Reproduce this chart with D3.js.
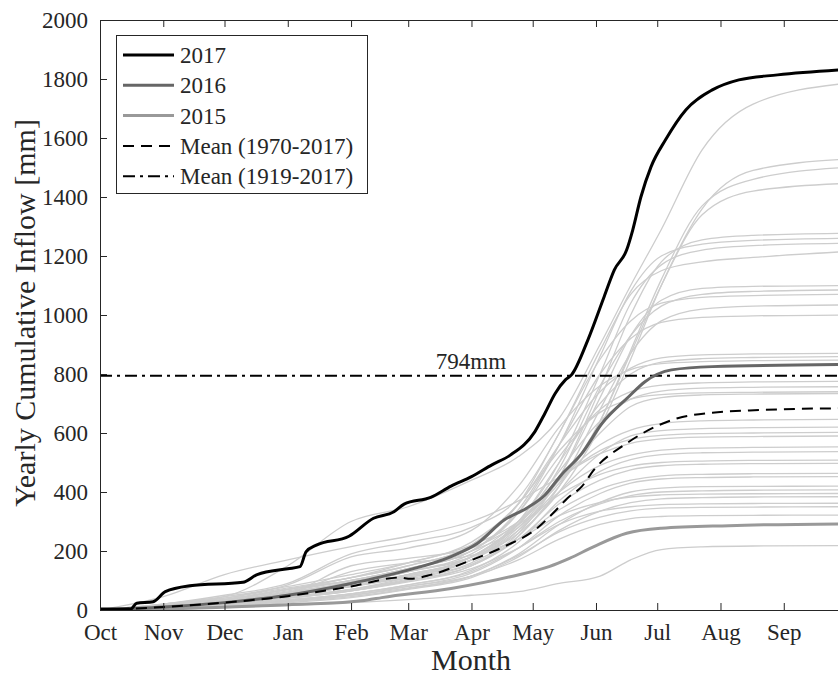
<!DOCTYPE html>
<html>
<head>
<meta charset="utf-8">
<script src="https://cdn.jsdelivr.net/npm/d3@7"></script>
<style>
body { margin: 0; background: #fff; }
svg { display: block; }
text { font-family: "Liberation Serif", "Times New Roman", serif; fill: #262626; }
</style>
</head>
<body>
<svg id="chart" width="838" height="677"></svg>
<script>
// month ticks, counted in days from 1 October
var monthDays = [0, 31, 61, 92, 123, 151, 182, 212, 243, 273, 304, 335];
var monthLabels = ["Oct", "Nov", "Dec", "Jan", "Feb", "Mar", "Apr", "May", "Jun", "Jul", "Aug", "Sep"];
var yTicks = [0, 200, 400, 600, 800, 1000, 1200, 1400, 1600, 1800, 2000];

// 2017
var days2017 = [0, 15, 18, 26, 32, 44, 70, 77, 92, 98, 101, 106, 122, 134, 144, 149, 162, 172, 182, 192, 201, 213, 218, 223, 228, 231, 239, 247, 252, 258, 261, 265, 270, 277, 287, 300, 313, 332, 365];
var vals2017 = [3, 3, 23, 28, 62, 82, 94, 120, 140, 147, 198, 220, 250, 311, 333, 359, 382, 420, 452, 492, 525, 604, 667, 734, 780, 797, 915, 1062, 1153, 1220, 1288, 1400, 1503, 1593, 1695, 1763, 1797, 1814, 1832];

// 2016
var days2016 = [0, 31, 61, 92, 123, 148, 172, 185, 198, 209, 218, 226, 236, 246, 259, 267, 280, 300, 365];
var vals2016 = [0, 10, 25, 50, 90, 130, 181, 226, 305, 345, 390, 458, 530, 633, 723, 774, 814, 825, 832];

// 2015
var days2015 = [0, 40, 92, 123, 131, 138, 172, 201, 220, 230, 242, 258, 275, 308, 365];
var vals2015 = [0, 5, 18, 28, 34, 42, 73, 113, 147, 175, 215, 260, 277, 286, 292];

// mean 1970-2017
var daysMean = [0, 31, 61, 92, 123, 147, 152, 162, 180, 198, 213, 225, 229, 236, 242, 258, 272, 283, 300, 324, 365];
var valsMean = [0, 10, 25, 47, 80, 110, 106, 119, 164, 215, 271, 350, 379, 418, 475, 565, 621, 650, 669, 678, 684];

// mean 1919-2017
var longMean = 794;

// the other years, sampled on a common set of days
var gridDays = [0, 31, 61, 92, 123, 151, 182, 205, 225, 245, 260, 275, 295, 320, 365];
var otherYears = [
  [0, 20, 45, 150, 300, 350, 440, 520, 650, 900, 1100, 1290, 1560, 1715, 1785],
  [0, 10, 30, 60, 90, 130, 180, 260, 400, 620, 850, 1100, 1360, 1490, 1528],
  [0, 12, 35, 70, 100, 140, 200, 280, 420, 640, 880, 1120, 1370, 1460, 1500],
  [0, 15, 40, 80, 120, 160, 220, 300, 430, 640, 870, 1100, 1340, 1420, 1446],
  [0, 10, 25, 50, 80, 110, 160, 260, 450, 750, 1000, 1180, 1255, 1270, 1277],
  [0, 15, 35, 70, 100, 140, 200, 330, 560, 860, 1080, 1200, 1240, 1253, 1260],
  [0, 12, 30, 60, 90, 120, 180, 300, 500, 800, 1040, 1170, 1220, 1235, 1243],
  [0, 20, 50, 90, 190, 230, 280, 380, 600, 880, 1070, 1150, 1180, 1195, 1215],
  [0, 12, 28, 55, 85, 120, 170, 270, 450, 720, 930, 1050, 1090, 1097, 1100],
  [0, 10, 30, 60, 90, 130, 180, 290, 480, 760, 930, 1030, 1070, 1080, 1085],
  [0, 18, 40, 75, 110, 150, 220, 360, 600, 850, 980, 1040, 1060, 1066, 1070],
  [0, 8, 20, 45, 70, 100, 150, 250, 420, 680, 870, 980, 1020, 1030, 1034],
  [0, 15, 35, 65, 100, 140, 200, 340, 560, 800, 920, 975, 992, 997, 1000],
  [0, 15, 35, 70, 110, 160, 230, 360, 560, 740, 820, 855, 865, 868, 870],
  [0, 10, 25, 50, 80, 120, 180, 300, 500, 700, 800, 840, 852, 856, 859],
  [0, 20, 45, 85, 180, 210, 270, 420, 620, 760, 815, 835, 842, 845, 847],
  [0, 12, 30, 60, 95, 140, 200, 330, 520, 680, 740, 762, 770, 773, 775],
  [0, 8, 20, 40, 70, 110, 170, 290, 470, 640, 715, 742, 752, 755, 757],
  [0, 15, 35, 70, 110, 150, 220, 360, 540, 670, 715, 730, 736, 738, 740],
  [0, 10, 25, 50, 80, 115, 170, 280, 440, 600, 690, 720, 729, 732, 734],
  [0, 10, 25, 50, 80, 120, 180, 290, 440, 560, 610, 632, 641, 644, 646],
  [0, 8, 20, 40, 65, 100, 150, 250, 400, 530, 590, 608, 615, 618, 620],
  [0, 12, 30, 55, 90, 130, 190, 300, 440, 540, 578, 592, 598, 600, 602],
  [0, 45, 120, 170, 215, 250, 300, 370, 450, 530, 565, 580, 586, 588, 590],
  [0, 10, 25, 50, 80, 115, 170, 270, 400, 490, 525, 542, 549, 551, 553],
  [0, 6, 15, 32, 55, 85, 135, 230, 370, 470, 510, 527, 533, 535, 537],
  [0, 12, 28, 55, 150, 175, 210, 290, 390, 460, 488, 500, 505, 507, 508],
  [0, 8, 20, 40, 65, 100, 150, 240, 360, 440, 475, 489, 494, 496, 497],
  [0, 10, 22, 45, 70, 105, 155, 240, 340, 410, 440, 455, 460, 462, 463],
  [0, 6, 15, 30, 50, 80, 125, 210, 320, 395, 430, 444, 449, 451, 452],
  [0, 5, 15, 30, 50, 75, 115, 190, 290, 365, 400, 413, 418, 419, 420],
  [0, 8, 18, 35, 55, 85, 130, 210, 300, 360, 388, 400, 404, 406, 407],
  [0, 12, 28, 55, 130, 160, 185, 240, 320, 365, 383, 390, 393, 394, 395],
  [0, 5, 12, 25, 42, 70, 110, 180, 270, 335, 364, 377, 381, 383, 384],
  [0, 10, 22, 42, 65, 95, 140, 210, 290, 335, 350, 357, 360, 361, 362],
  [0, 6, 14, 28, 45, 72, 115, 185, 265, 315, 336, 345, 348, 349, 350],
  [0, 8, 18, 35, 55, 80, 115, 170, 240, 290, 310, 317, 320, 321, 322],
  [0, 3, 8, 15, 25, 35, 50, 62, 90, 115, 170, 205, 214, 217, 218]
];

var svg = d3.select("#chart");
var plotLeft = 100, plotRight = 845, plotTop = 20, plotBottom = 610;
var axisColor = "#262626";
var fontFamily = "'Liberation Serif', 'Times New Roman', serif";

var x = d3.scaleLinear().domain([0, 365]).range([plotLeft, plotRight]);
var y = d3.scaleLinear().domain([0, 2000]).range([plotBottom, plotTop]);

svg.append("defs").append("clipPath").attr("id", "plot-clip")
    .append("rect")
    .attr("x", plotLeft).attr("y", plotTop)
    .attr("width", plotRight - plotLeft).attr("height", plotBottom - plotTop);

var line = d3.line()
    .x(d => x(d[0]))
    .y(d => y(d[1]))
    .curve(d3.curveMonotoneX);

function pairs(days, vals) {
    return days.map((d, i) => [d, vals[i]]);
}

var plot = svg.append("g").attr("clip-path", "url(#plot-clip)");

// grey years
plot.selectAll(".other")
    .data(otherYears)
    .enter().append("path")
    .attr("class", "other")
    .attr("d", v => line(pairs(gridDays, v)))
    .attr("fill", "none")
    .attr("stroke", "#cdcdcd")
    .attr("stroke-width", 1.3);

// 794mm line
plot.append("line")
    .attr("x1", plotLeft).attr("x2", plotRight)
    .attr("y1", y(longMean)).attr("y2", y(longMean))
    .attr("stroke", "#000")
    .attr("stroke-width", 2)
    .attr("stroke-dasharray", "12,5,3,5");

var series = [
    { days: days2015, vals: vals2015, color: "#999999", width: 3, dash: null },
    { days: days2016, vals: vals2016, color: "#666666", width: 3, dash: null },
    { days: daysMean, vals: valsMean, color: "#000000", width: 2, dash: "11,7" },
    { days: days2017, vals: vals2017, color: "#000000", width: 3, dash: null }
];

series.forEach(s => {
    plot.append("path")
        .attr("d", line(pairs(s.days, s.vals)))
        .attr("fill", "none")
        .attr("stroke", s.color)
        .attr("stroke-width", s.width)
        .attr("stroke-dasharray", s.dash)
        .attr("stroke-linejoin", "round");
});

svg.append("text")
    .attr("x", 471).attr("y", 369)
    .attr("text-anchor", "middle")
    .style("font-size", "23px")
    .text(longMean + "mm");

// axes, ticks pointing inwards on all four sides
var xBottom = d3.axisBottom(x).tickValues(monthDays)
    .tickFormat((d, i) => monthLabels[i])
    .tickSizeInner(-7).tickSizeOuter(0).tickPadding(14);
var xTop = d3.axisTop(x).tickValues(monthDays)
    .tickFormat("").tickSizeInner(-7).tickSizeOuter(0);
var yLeft = d3.axisLeft(y).tickValues(yTicks)
    .tickFormat(d3.format("d"))
    .tickSizeInner(-7).tickSizeOuter(0).tickPadding(12);
var yRight = d3.axisRight(y).tickValues(yTicks)
    .tickFormat("").tickSizeInner(-7).tickSizeOuter(0);

var axes = [
    svg.append("g").attr("transform", "translate(0," + plotBottom + ")").call(xBottom),
    svg.append("g").attr("transform", "translate(0," + plotTop + ")").call(xTop),
    svg.append("g").attr("transform", "translate(" + plotLeft + ",0)").call(yLeft),
    svg.append("g").attr("transform", "translate(" + plotRight + ",0)").call(yRight)
];
axes.forEach(g => {
    g.select(".domain").attr("stroke", axisColor).attr("stroke-width", 1);
    g.selectAll(".tick line").attr("stroke", axisColor).attr("stroke-width", 1);
    g.selectAll(".tick text")
        .attr("fill", axisColor)
        .style("font-family", fontFamily)
        .style("font-size", "23px");
});

svg.append("text")
    .attr("x", 471).attr("y", 670)
    .attr("text-anchor", "middle")
    .style("font-size", "30px")
    .text("Month");

svg.append("text")
    .attr("transform", "translate(35,313) rotate(-90)")
    .attr("text-anchor", "middle")
    .style("font-size", "30px")
    .text("Yearly Cumulative Inflow [mm]");

// legend
var legendItems = [
    { label: "2017", color: "#000000", width: 3, dash: null },
    { label: "2016", color: "#666666", width: 3, dash: null },
    { label: "2015", color: "#999999", width: 3, dash: null },
    { label: "Mean (1970-2017)", color: "#000000", width: 2, dash: "11,7" },
    { label: "Mean (1919-2017)", color: "#000000", width: 2, dash: "12,5,3,5" }
];

var legend = svg.append("g");
legend.append("rect")
    .attr("x", 116.5).attr("y", 35.5)
    .attr("width", 251).attr("height", 158)
    .attr("fill", "#fff")
    .attr("stroke", axisColor)
    .attr("stroke-width", 1);

legendItems.forEach((item, i) => {
    var ly = 55 + i * 30.3;
    legend.append("line")
        .attr("x1", 123).attr("x2", 174)
        .attr("y1", ly).attr("y2", ly)
        .attr("stroke", item.color)
        .attr("stroke-width", item.width)
        .attr("stroke-dasharray", item.dash);
    legend.append("text")
        .attr("x", 180).attr("y", ly)
        .attr("dy", "0.35em")
        .style("font-size", "23px")
        .text(item.label);
});
</script>
</body>
</html>
